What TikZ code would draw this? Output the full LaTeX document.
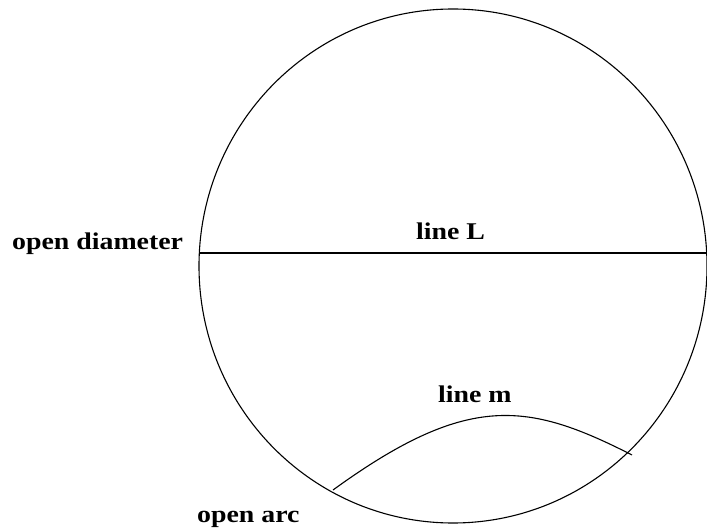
\documentclass[tikz,border=0pt]{standalone}
\usepackage{fontspec}
\setmainfont{Liberation Serif}
\tikzset{
  lbl/.style={anchor=base west, inner sep=0pt, font=\fontsize{24}{26}\selectfont\bfseries},
  edge/.style={draw=black, line width=1.1pt}
}
\newcommand{\wide}[1]{\scalebox{1.16}[1]{#1}}
\begin{document}
\begin{tikzpicture}[x=1pt,y=-1pt]
\useasboundingbox (0,0) rectangle (707,529);
\fill[white] (0,0) rectangle (707,529);
% circle
\draw[edge] (453,266) ellipse [x radius=254, y radius=257];
% diameter endpoints
\coordinate (dl) at (199.3,253);
\coordinate (dr) at (706.7,253);
\draw[edge] (dl) -- (dr);
% arc m
\coordinate (ma) at (333,490);
\coordinate (mb) at (632,455);
\draw[edge] (ma) .. controls (468,392) and (528,402) .. (mb);
% labels
\node[lbl] (od) at (12,250) {\wide{open diameter}};
\node[lbl] (lL) at (416,240) {\wide{line L}};
\node[lbl] (lm) at (438,402) {\wide{line m}};
\node[lbl] (oa) at (197,522) {\wide{open arc}};
\end{tikzpicture}
\end{document}
